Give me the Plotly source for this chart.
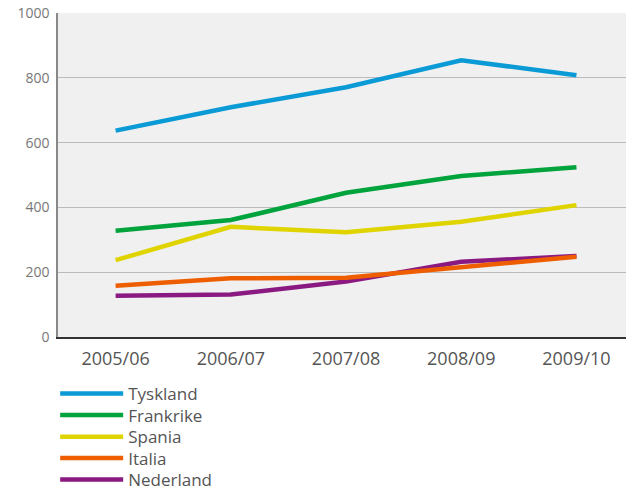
import plotly.graph_objects as go

categories = ["2005/06", "2006/07", "2007/08", "2008/09", "2009/10"]
tyskland = [637, 709, 771, 854, 808]
frankrike = [328, 361, 445, 497, 524]
spania = [237, 340, 323, 356, 407]
italia = [158, 181, 183, 217, 248]
nederland = [127, 131, 171, 232, 250]
y_ticks = [0, 200, 400, 600, 800, 1000]

# (name, values, colour, legend id, legend y in paper coords)
series = [
    ("Tyskland", tyskland, "#0A9AD5", "legend", -0.176),
    ("Frankrike", frankrike, "#00A33C", "legend2", -0.242),
    ("Spania", spania, "#E0D400", "legend3", -0.309),
    ("Nederland", nederland, "#8A1A82", "legend5", -0.441),
    ("Italia", italia, "#EE5E00", "legend4", -0.375),
]

fig = go.Figure()
legends = {}
for name, vals, col, leg, ly in series:
    fig.add_trace(go.Scatter(
        x=categories, y=vals, name=name, mode="lines",
        line=dict(color=col, width=4.5), legend=leg,
    ))
    legends[leg] = dict(
        x=-0.005, y=ly, xanchor="left", yanchor="middle",
        font=dict(size=17, color="#555555", family="Open Sans"),
        itemwidth=63, bgcolor="rgba(0,0,0,0)",
    )

fig.update_layout(
    width=626, height=490,
    margin=dict(l=58, r=0, t=13, b=153, autoexpand=False),
    paper_bgcolor="white",
    plot_bgcolor="#F0F0F0",
    font=dict(family="Open Sans", color="#555555"),
    showlegend=True,
    **legends,
)
fig.update_xaxes(
    type="category", range=[-0.5, 4.43], automargin=False,
    showgrid=False, showline=True, linecolor="#333333", linewidth=2,
    ticks="", tickfont=dict(size=18, color="#555555"), ticklabelstandoff=4,
)
fig.update_yaxes(
    range=[0, 1000], tickvals=y_ticks, automargin=False,
    showgrid=True, gridcolor="#BBBBBB", gridwidth=1,
    showline=True, linecolor="#888888", linewidth=1.5,
    zeroline=False, ticks="",
    tickfont=dict(size=14, color="#777777"), ticklabelstandoff=4,
)
fig.write_html("out.html", config={"displayModeBar": False},
               post_script="document.body.style.margin='0';")
